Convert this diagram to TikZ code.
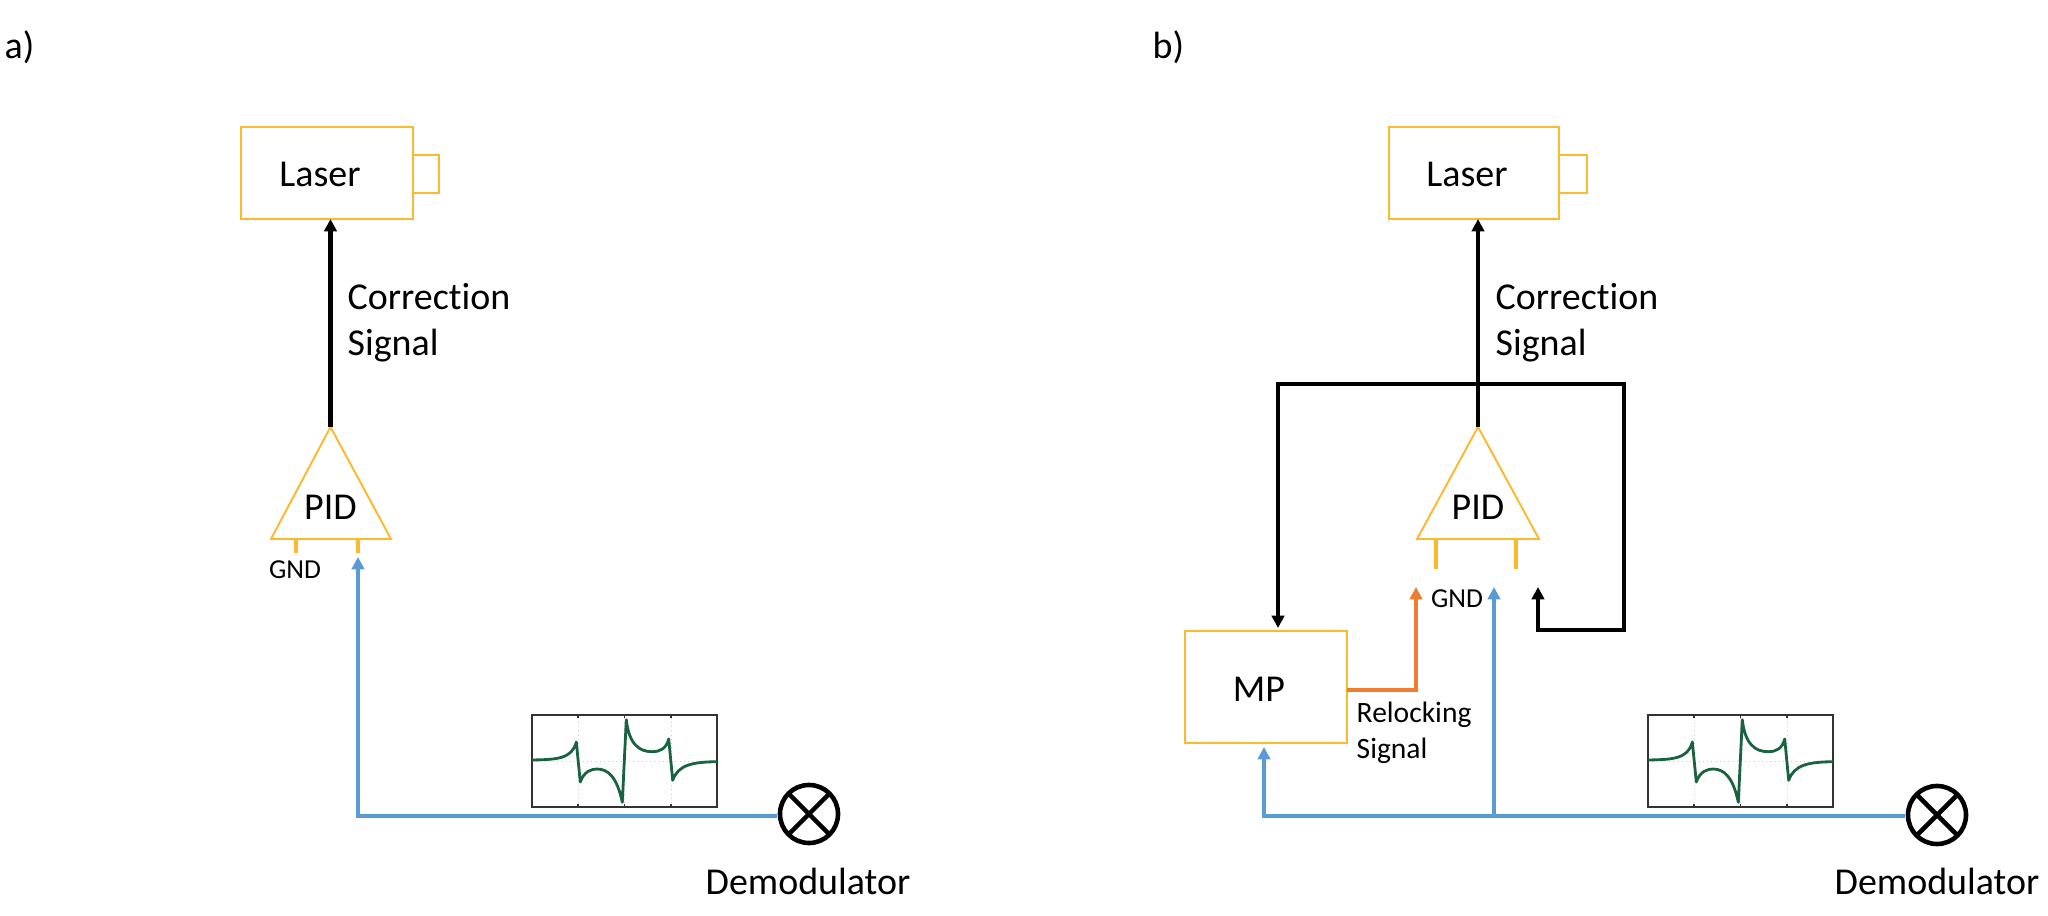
\documentclass[tikz,border=0pt]{standalone}
\usepackage{fontspec}
\setmainfont{Carlito}[Ligatures=NoCommon]
\usepackage{xcolor}
\usetikzlibrary{arrows.meta}
\definecolor{boxgold}{HTML}{FBBA2C}
\definecolor{sigblue}{HTML}{5B9BD5}
\definecolor{sigorange}{HTML}{ED7D31}
\definecolor{curvegreen}{HTML}{1A6340}
\tikzset{
  box/.style={draw=boxgold,line width=0.6pt,inner sep=0pt,outer sep=0pt},
  tri/.style={draw=boxgold,line width=0.55pt,line join=miter},
  leg/.style={draw=boxgold,line width=1.2pt},
  tip/.style={-{Triangle[length=3.5pt,width=3.5pt]}},
  wire/.style={draw=black,line width=1.2pt},
  bluewire/.style={draw=sigblue,line width=1.3pt},
  orangewire/.style={draw=sigorange,line width=1.3pt},
  big/.style={inner sep=0pt,font=\fontsize{10.8}{13.1}\selectfont},
  small/.style={inner sep=0pt,font=\fontsize{7.8}{9.5}\selectfont},
  mid/.style={inner sep=0pt,font=\fontsize{8.4}{10.2}\selectfont},
  demod/.style={circle,draw=black,line width=1.3pt,minimum size=0.58cm,inner sep=0pt,outer sep=0pt},
  scopeplot/.pic={
    \foreach \x in {46,92.7,139}
    \draw [gray!40,densely dotted,line width=0.2pt] (\x,0) -- (\x,-92);
    \draw [gray!40,densely dotted,line width=0.2pt] (0,-46) -- (185,-46);
    \draw [line width=0.4pt,color=black!80] (0,0) rectangle (185,-92);
    \foreach \x in {46,92.7,139}
    \draw [line width=0.4pt,color=black!80] (\x,0) -- (\x,-3) (\x,-92) -- (\x,-89);
    % four lobes, joined by the steep parts
    \draw [curvegreen,line width=0.8pt,line join=round]
    (0,-47) .. controls (25,-47.5) and (40,-48) .. (44.3,-65)
    -- (48.3,-25) .. controls (52,-36) and (60,-38) .. (65,-38)
    .. controls (76,-38) and (85,-30) .. (90.3,-4.7)
    -- (94.3,-87.3) .. controls (97,-62) and (108,-55.3) .. (120,-55.3)
    .. controls (128,-55.3) and (134,-58) .. (136.7,-68)
    -- (140.7,-26.7) .. controls (146,-42) and (160,-45) .. (185,-45.3);
  }
}
\begin{document}
\begin{tikzpicture}[x=0.01cm,y=-0.01cm]
\useasboundingbox (0,0) rectangle (2048,916);
\node [big,anchor=base west] (a-label) at (4,59) {a)};
\node [big,anchor=base west] (b-label) at (1152,59) {b)};

% panel a
\node [box,anchor=north west,minimum width=1.72cm,minimum height=0.92cm] (a-laser) at (241,127) {};
\node [box,anchor=north west,minimum width=0.26cm,minimum height=0.38cm] (a-head) at (413,155) {};
\node [big] (a-lasertxt) at (320,174) {Laser};
\coordinate (a-top) at (330.5,427);
\coordinate (a-left) at (271,539);
\coordinate (a-right) at (391,539);
\draw [tri] (a-top) -- (a-left) -- (a-right) -- cycle;
\node [big] (a-pid) at (330.5,507) {PID};
\draw [wire,tip] (a-top) -- (a-top |- a-laser.south);
\node [big,anchor=west,align=left] (a-corr) at (347,323) {Correction\\Signal};
\coordinate (a-gnd) at (296,553);
\coordinate (a-in) at (358,553);
\draw [leg] (a-gnd) -- (a-gnd |- a-right);
\draw [leg] (a-in) -- (a-in |- a-right);
\node [small,anchor=base] (a-gndtxt) at (295,579) {GND};
\coordinate (a-tip) at (358,557);
\node [demod] (a-demod) at (809,814) {};
\draw [line width=1.3pt] (a-demod.45) -- (a-demod.225) (a-demod.135) -- (a-demod.315);
\node [big,anchor=base] (a-demodtxt) at (808,895) {Demodulator};
\draw [bluewire,tip] (a-demod.west) ++(-3,2) -- (358,816) -- (a-tip);
\pic at (532,807) {scopeplot};

% panel b
\node [box,anchor=north west,minimum width=1.70cm,minimum height=0.92cm] (b-laser) at (1389,127) {};
\node [box,anchor=north west,minimum width=0.28cm,minimum height=0.38cm] (b-head) at (1559,155) {};
\node [big] (b-lasertxt) at (1467,174) {Laser};
\coordinate (b-top) at (1478,427);
\coordinate (b-left) at (1417,539);
\coordinate (b-right) at (1539,539);
\draw [tri] (b-top) -- (b-left) -- (b-right) -- cycle;
\node [big] (b-pid) at (1478,507) {PID};
\draw [wire,tip] (b-top) -- (b-top |- b-laser.south);
\node [big,anchor=west,align=left] (b-corr) at (1495,323) {Correction\\Signal};
\coordinate (b-gnd) at (1436,569);
\coordinate (b-in) at (1516,569);
\draw [leg] (b-gnd) -- (b-gnd |- b-right);
\draw [leg] (b-in) -- (b-in |- b-right);
\node [small,anchor=base] (b-gndtxt) at (1457,608) {GND};
\node [box,anchor=north west,minimum width=1.62cm,minimum height=1.12cm] (b-mp) at (1185,631) {};
\node [big] (b-mptxt) at (1259,689) {MP};
\node [mid,anchor=west,align=left] (b-reloc) at (1356,733) {Relocking\\Signal};
\coordinate (b-bus) at (1478,384);
\coordinate (b-back) at (1538,587);
\draw [wire,tip,line join=miter] (b-bus) -- (1278,384) -- (1278,628);
\draw [wire,tip,line join=miter] (b-bus) -- (1624,384) -- (1624,630) -- (1538,630) -- (b-back);
\draw [orangewire,tip] (b-mp.east |- 0,690) -- (1416,690) -- (1416,587);
\node [demod] (b-demod) at (1937,815) {};
\draw [line width=1.3pt] (b-demod.45) -- (b-demod.225) (b-demod.135) -- (b-demod.315);
\node [big,anchor=base] (b-demodtxt) at (1937,895) {Demodulator};
\draw [bluewire,tip] (b-demod.west) ++(-3,1) -- (1264,816) -- (1264,747);
\draw [bluewire,tip] (1494,816) -- (1494,587);
\pic at (1648,807) {scopeplot};
\end{tikzpicture}
\end{document}
